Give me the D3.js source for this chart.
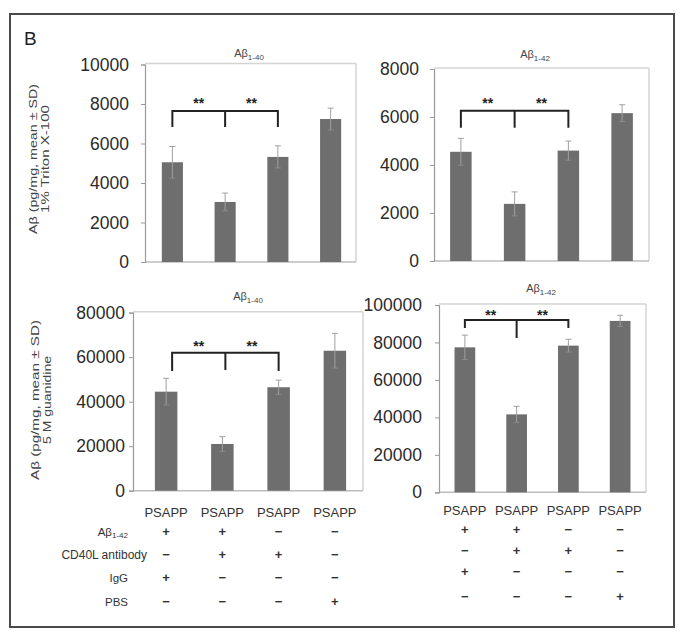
<!DOCTYPE html>
<html><head><meta charset="utf-8">
<script src="https://cdn.jsdelivr.net/npm/d3@7"></script>
<style>
body{margin:0;background:#fff;}
svg{font-family:"Liberation Sans",Arial,sans-serif;}
</style></head><body>
<svg id="c" width="685" height="642"></svg>
<script>
// ---- data ----
const categories = ["PSAPP", "PSAPP", "PSAPP", "PSAPP"];
const triton40 = [5050, 3040, 5320, 7240];
const triton40Err = [800, 450, 560, 550];
const triton42 = [4550, 2380, 4600, 6160];
const triton42Err = [560, 500, 400, 350];
const guan40 = [44500, 21000, 46500, 62900];
const guan40Err = [6000, 3300, 3200, 7800];
const guan42 = [77400, 41600, 78300, 91500];
const guan42Err = [6500, 4300, 3400, 3000];
const ticks10k = [0, 2000, 4000, 6000, 8000, 10000];
const ticks8k = [0, 2000, 4000, 6000, 8000];
const ticks80k = [0, 20000, 40000, 60000, 80000];
const ticks100k = [0, 20000, 40000, 60000, 80000, 100000];
const rowLabels = ["Aβ1-42", "CD40L antibody", "IgG", "PBS"];
const signs = [["+", "+", "−", "−"], ["−", "+", "+", "−"], ["+", "−", "−", "−"], ["−", "−", "−", "+"]];
const sigLabel = "**";

const svg = d3.select("#c");
svg.append("rect").attr("x", 10).attr("y", 14).attr("width", 664).attr("height", 613)
  .attr("fill", "none").attr("stroke", "#4a4a4a").attr("stroke-width", 2);
svg.append("text").attr("x", 24).attr("y", 45).attr("font-size", 19).attr("fill", "#222").text("B");

function panel(o) {
  const g = svg.append("g");
  const x = d3.scaleBand().domain(d3.range(4)).range([o.bx0, o.bx1]).paddingInner(0.6).paddingOuter(0.3);
  const y = d3.scaleLinear().domain([0, o.ticks[o.ticks.length - 1]]).range([o.y0, o.yTop]);
  // plot border
  g.append("line").attr("x1", o.ax).attr("x2", o.right).attr("y1", o.yTop - 1).attr("y2", o.yTop - 1).attr("stroke", "#d4d4d4").attr("stroke-width", 1.5);
  g.append("line").attr("x1", o.right).attr("x2", o.right).attr("y1", o.yTop - 1).attr("y2", o.y0).attr("stroke", "#d4d4d4").attr("stroke-width", 1.5);
  g.append("line").attr("x1", o.ax).attr("x2", o.right).attr("y1", o.y0).attr("y2", o.y0).attr("stroke", "#bdbdbd").attr("stroke-width", 1.5);
  // axis
  const ax = g.append("g").attr("transform", `translate(${o.ax},0)`)
    .call(d3.axisLeft(y).tickValues(o.ticks).tickFormat(d3.format("d")).tickSize(4).tickPadding(o.pad));
  ax.select(".domain").attr("stroke", "#9a9a9a").attr("stroke-width", 1.2);
  ax.selectAll(".tick line").attr("stroke", "#9a9a9a");
  ax.selectAll("text").attr("font-size", 17.5).attr("fill", "#2a2a2a").attr("font-family", "Liberation Sans, Arial, sans-serif");
  // bars
  g.selectAll(".bar").data(o.vals).join("rect")
    .attr("x", (d, i) => x(i)).attr("width", x.bandwidth())
    .attr("y", d => y(d)).attr("height", d => o.y0 - y(d)).attr("fill", "#6e6e6e");
  // error bars
  const eg = g.selectAll(".err").data(o.vals).join("g");
  eg.append("line").attr("x1", (d, i) => x(i) + x.bandwidth() / 2).attr("x2", (d, i) => x(i) + x.bandwidth() / 2)
    .attr("y1", (d, i) => y(d - o.errs[i])).attr("y2", (d, i) => y(d + o.errs[i])).attr("stroke", "#a0a0a0").attr("stroke-width", 1);
  eg.append("line").attr("x1", (d, i) => x(i) + x.bandwidth() / 2 - 3).attr("x2", (d, i) => x(i) + x.bandwidth() / 2 + 3)
    .attr("y1", (d, i) => y(d + o.errs[i])).attr("y2", (d, i) => y(d + o.errs[i])).attr("stroke", "#a0a0a0").attr("stroke-width", 1);
  eg.append("line").attr("x1", (d, i) => x(i) + x.bandwidth() / 2 - 3).attr("x2", (d, i) => x(i) + x.bandwidth() / 2 + 3)
    .attr("y1", (d, i) => y(d - o.errs[i])).attr("y2", (d, i) => y(d - o.errs[i])).attr("stroke", "#8a8a8a").attr("stroke-width", 1);
  // bracket
  const c = i => x(i) + x.bandwidth() / 2 + (o.bOff ? o.bOff[i] : 0);
  const bp = d3.path();
  bp.moveTo(c(0), o.bDrop); bp.lineTo(c(0), o.bY); bp.lineTo(c(2), o.bY); bp.lineTo(c(2), o.bDrop);
  bp.moveTo(c(1), o.bY); bp.lineTo(c(1), o.bMid);
  g.append("path").attr("d", bp.toString()).attr("fill", "none").attr("stroke", "#222").attr("stroke-width", 2);
  [0, 1].forEach(k => {
    g.append("text").attr("x", (c(k) + c(k + 1)) / 2).attr("y", o.sY).attr("text-anchor", "middle")
      .attr("font-size", 14).attr("font-weight", "bold").attr("fill", "#222").text(sigLabel);
  });
  // title
  const t = g.append("text").attr("x", o.tx).attr("y", o.ty).attr("text-anchor", "middle").attr("font-size", 11).attr("fill", "#444");
  t.append("tspan").text(o.title[0]);
  t.append("tspan").attr("font-size", 8).attr("dy", 2.5).text(o.title[1]);
  // x labels
  if (o.xlab) {
    g.selectAll(".xl").data(categories).join("text").attr("x", (d, i) => x(i) + x.bandwidth() / 2).attr("y", o.xlab)
      .attr("text-anchor", "middle").attr("font-size", 13).attr("fill", "#333").text(d => d);
    signs.forEach((row, r) => {
      g.selectAll(null).data(row).join("text").attr("x", (d, i) => x(i) + x.bandwidth() / 2).attr("y", o.signY[r])
        .attr("text-anchor", "middle").attr("font-size", 13).attr("font-weight", "bold").attr("fill", "#333").text(d => d);
    });
  }
  return {x, y};
}

panel({bx0: 146, bx1: 357, ax: 145, right: 356, yTop: 64.5, y0: 262, ticks: ticks10k, pad: 12,
  vals: triton40, errs: triton40Err, bY: 111, bDrop: 127, bMid: 127, sY: 108, tx: 249, ty: 57, title: ["Aβ", "1-40"]});
panel({bx0: 434, bx1: 649, ax: 434, right: 649, yTop: 69, y0: 261, ticks: ticks8k, pad: 11,
  vals: triton42, errs: triton42Err, bY: 110.7, bDrop: 127.7, bMid: 127.7, sY: 108, tx: 535, ty: 58, title: ["Aβ", "1-42"]});
panel({bx0: 138, bx1: 363, ax: 133, right: 363, yTop: 312.7, y0: 490.7, ticks: ticks80k, pad: 4,
  vals: guan40, errs: guan40Err, bY: 352.7, bDrop: 371, bMid: 370, sY: 351, tx: 248, ty: 300, title: ["Aβ", "1-40"],
  bOff: [6, 3, 0], xlab: 517, signY: [536, 559, 582, 606]});
panel({bx0: 439, bx1: 646, ax: 439, right: 646, yTop: 305, y0: 492.3, ticks: ticks100k, pad: 13,
  vals: guan42, errs: guan42Err, bY: 320, bDrop: 328, bMid: 338, sY: 320, tx: 541, ty: 292, title: ["Aβ", "1-42"],
  xlab: 515, signY: [534, 555, 576, 601]});

// y-axis labels
function ylab(cx, cy, l1, l2, len1, len2, gap) {
  const g = svg.append("g").attr("transform", `translate(${cx},${cy}) rotate(-90)`);
  g.append("text").attr("x", 0).attr("y", 0).attr("text-anchor", "middle").attr("font-size", 10.5).attr("fill", "#444")
    .attr("textLength", len1).attr("lengthAdjust", "spacingAndGlyphs").text(l1);
  g.append("text").attr("x", 0).attr("y", gap).attr("text-anchor", "middle").attr("font-size", 10.5).attr("fill", "#444")
    .attr("textLength", len2).attr("lengthAdjust", "spacingAndGlyphs").text(l2);
}
ylab(37, 159, "Aβ (pg/mg, mean ± SD)", "1% Triton X-100", 150, 108, 11.5);
ylab(39, 400, "Aβ (pg/mg, mean ± SD)", "5 M guanidine", 160, 88, 11.5);

// treatment row labels
const rowY = [536, 559, 582, 606];
rowLabels.forEach((l, r) => {
  const t = svg.append("text").attr("x", r === 1 ? 147 : 128).attr("y", rowY[r]).attr("text-anchor", "end")
    .attr("font-size", r === 1 ? 12 : 11.5).attr("fill", "#333");
  if (r === 0) {
    t.append("tspan").text("Aβ");
    t.append("tspan").attr("font-size", 8).attr("dy", 2).text("1-42");
  } else t.text(l);
});
</script></body></html>
